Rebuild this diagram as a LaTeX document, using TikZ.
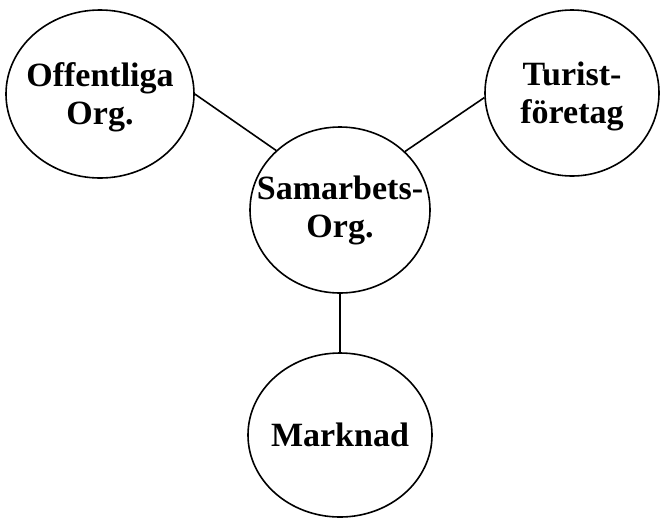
\documentclass[tikz,border=0pt]{standalone}
\usepackage{fontspec}
\setmainfont{Liberation Serif}
\usetikzlibrary{shapes.geometric}
\begin{document}
\begin{tikzpicture}[x=1pt,y=-1pt,
  oval/.style={ellipse,draw,line width=1.6pt,inner sep=0pt},
  lbl/.style={align=center,font=\fontsize{34}{38}\selectfont\bfseries,inner sep=0pt},
  link/.style={line width=1.6pt}]
\useasboundingbox (0,0) rectangle (660,520);
\node[oval,minimum width=188pt,minimum height=168pt] (off) at (100,94) {};
\node[oval,minimum width=174pt,minimum height=166pt] (tur) at (572,93) {};
\node[oval,minimum width=180pt,minimum height=166pt] (sam) at (340,210) {};
\node[oval,minimum width=184pt,minimum height=164pt] (mar) at (340,435) {};
\node[lbl] (offt) at ([yshift=-3pt]off.center) {Offentliga\\Org.};
\node[lbl] (turt) at ([yshift=-3pt]tur.center) {Turist-\\företag};
\node[lbl] (samt) at (sam) {Samarbets-\\Org.};
\node[lbl] (mart) at (mar) {Marknad};
\draw[link] (off.east) -- (sam.137);
\draw[link] (sam.42) -- (tur.183);
\draw[link] (sam.south) -- (mar.north);
\end{tikzpicture}
\end{document}
